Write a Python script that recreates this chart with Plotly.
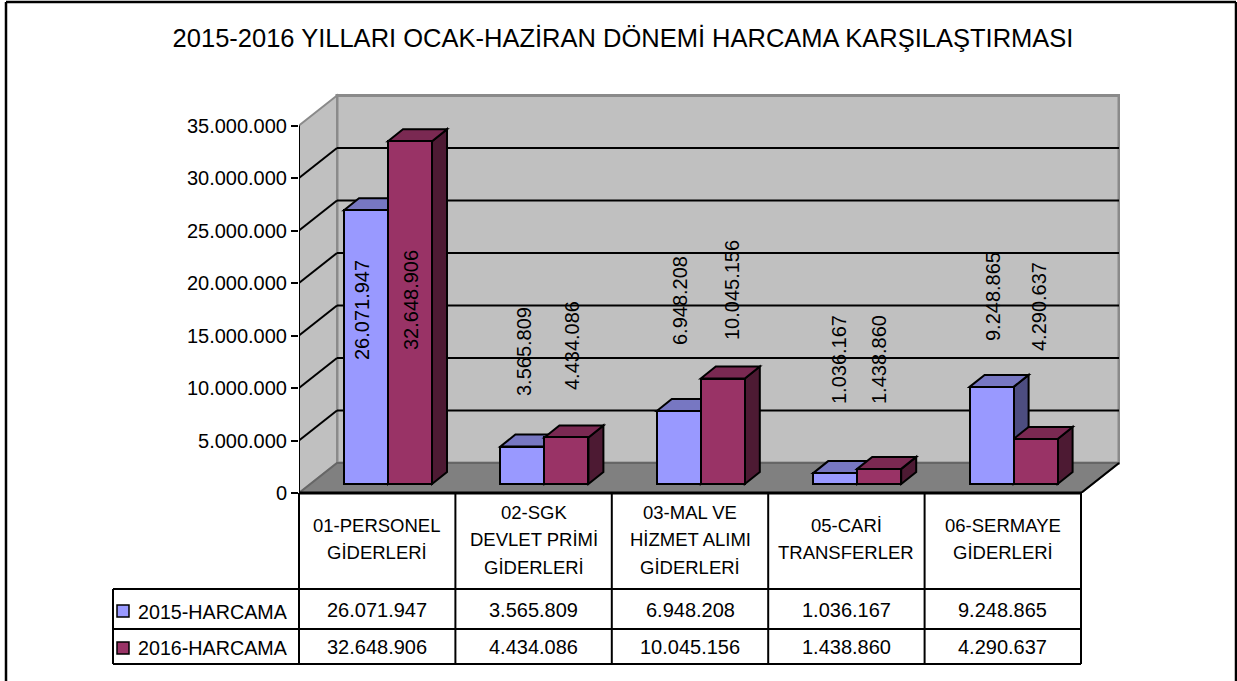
import plotly.graph_objects as go

categories = [
    ["01-PERSONEL", "GİDERLERİ"],
    ["02-SGK", "DEVLET PRİMİ", "GİDERLERİ"],
    ["03-MAL VE", "HİZMET ALIMI", "GİDERLERİ"],
    ["05-CARİ", "TRANSFERLER"],
    ["06-SERMAYE", "GİDERLERİ"],
]
harcama_2015 = [26071947, 3565809, 6948208, 1036167, 9248865]
harcama_2016 = [32648906, 4434086, 10045156, 1438860, 4290637]
series_names = ["2015-HARCAMA", "2016-HARCAMA"]
y_ticks = [0, 5000000, 10000000, 15000000, 20000000, 25000000, 30000000, 35000000]
title = "2015-2016 YILLARI OCAK-HAZİRAN DÖNEMİ HARCAMA KARŞILAŞTIRMASI"

# picture geometry, in pixels
W, H = 1237, 681
X0, X1 = 299, 1081      # front edge of the floor
Y0 = 493                # zero on the front plane
PLOT_R, PLOT_T = 1120, 93
PX_PER_CAT = (X1 - X0) / 5
PX_PER_UNIT = 10.5 / 1e6

DEPTH_X = 38 / PX_PER_CAT
DEPTH_Y = 30 / PX_PER_UNIT
BAR_X = 10.8 / PX_PER_CAT
BAR_BASE = 9 / PX_PER_UNIT
BAR_W = 44 / PX_PER_CAT
BAR_DX = 15 / PX_PER_CAT
BAR_DY = 12 / PX_PER_UNIT

FONT = "Liberation Sans"
BLUE = ["#9999FF", "#7777C2", "#4D4D80"]     # front, top, side
WINE = ["#993366", "#7A2952", "#4D1A33"]
WALL, FLOOR, EDGE = "#C0C0C0", "#808080", "#8A8A8A"

x_max = (PLOT_R - X0) / PX_PER_CAT
y_max = (Y0 - PLOT_T) / PX_PER_UNIT


def px(x):
    return (x - X0) / (PLOT_R - X0)


def py(y):
    return (Y0 - y) / (Y0 - PLOT_T)


def poly(points, fill, line="black", width=2):
    path = "M" + " L".join(f"{a},{b}" for a, b in points) + " Z"
    return dict(type="path", path=path, xref="x", yref="y", layer="below",
                fillcolor=fill, line=dict(color=line, width=width))


def seg(a, b, color="black", width=2):
    return dict(type="line", xref="x", yref="y", layer="below", x0=a[0], y0=a[1], x1=b[0], y1=b[1],
                line=dict(color=color, width=width))


def pline(x0, y0, x1, y1, color="black", width=2):
    return dict(type="line", xref="paper", yref="paper", x0=px(x0), y0=py(y0), x1=px(x1), y1=py(y1),
                line=dict(color=color, width=width))


def label(x, y, text, size=20, angle=0, anchor="center"):
    return dict(xref="paper", yref="paper", x=px(x), y=py(y), text=text, showarrow=False, textangle=angle,
                xanchor=anchor, yanchor="middle", font=dict(family=FONT, size=size, color="black"))


def fmt(v):
    return f"{v:,}".replace(",", ".")


shapes = []
top = y_ticks[-1]
# walls and floor
shapes.append(poly([(DEPTH_X, DEPTH_Y), (DEPTH_X, top + DEPTH_Y), (5 + DEPTH_X, top + DEPTH_Y), (5 + DEPTH_X, DEPTH_Y)],
                   WALL, EDGE, 3))
shapes.append(poly([(0, 0), (0, top), (DEPTH_X, top + DEPTH_Y), (DEPTH_X, DEPTH_Y)], WALL, EDGE, 2))
shapes.append(poly([(0, 0), (DEPTH_X, DEPTH_Y), (5 + DEPTH_X, DEPTH_Y), (5, 0)], FLOOR, "#666666", 2))
shapes.append(seg((5, 0), (5 + DEPTH_X, DEPTH_Y)))
for v in y_ticks[1:-1]:
    shapes.append(seg((0, v), (DEPTH_X, v + DEPTH_Y)))
    shapes.append(seg((DEPTH_X, v + DEPTH_Y), (5 + DEPTH_X, v + DEPTH_Y)))
shapes.append(seg((0, 0), (0, top)))

# depth faces of the bars, the bar traces cover them from the front
for i in range(5):
    for s, (vals, col) in enumerate(((harcama_2015, BLUE), (harcama_2016, WINE))):
        left = i + 0.5 + BAR_X + (s - 1) * BAR_W
        right = left + BAR_W
        t = BAR_BASE + vals[i]
        shapes.append(poly([(right, BAR_BASE), (right + BAR_DX, BAR_BASE + BAR_DY),
                            (right + BAR_DX, t + BAR_DY), (right, t)], col[2]))
        shapes.append(poly([(left, t), (left + BAR_DX, t + BAR_DY), (right + BAR_DX, t + BAR_DY), (right, t)], col[1]))

fig = go.Figure()
for s, (name, vals, col) in enumerate(((series_names[0], harcama_2015, BLUE), (series_names[1], harcama_2016, WINE))):
    fig.add_trace(go.Bar(
        name=name,
        x=[i + 0.5 + BAR_X + (s - 0.5) * BAR_W for i in range(5)],
        y=vals,
        base=BAR_BASE,
        width=BAR_W,
        marker=dict(color=col[0], line=dict(color="black", width=2)),
    ))

# data table
table_top, table_head, table_r1, table_r2 = Y0, 589, 629, 664
cols = [X0 + PX_PER_CAT * i for i in range(6)]
for x in cols:
    shapes.append(pline(x, table_top, x, table_r2))
shapes.append(pline(113, table_head, 113, table_r2))
shapes.append(pline(X0, table_top, X1, table_top, width=3))
for y in (table_head, table_r1, table_r2):
    shapes.append(pline(113, y, X1, y))
# outer frame
shapes.append(pline(6, 681, 6, 2, width=2.5))
shapes.append(pline(6, 2, 1236, 2, width=2.5))
shapes.append(pline(1236, 2, 1236, 681, width=2.5))

# legend keys
for y, col in ((611, BLUE[0]), (648, WINE[0])):
    shapes.append(dict(type="rect", xref="paper", yref="paper", x0=px(117), x1=px(129), y0=py(y - 6), y1=py(y + 6),
                       fillcolor=col, line=dict(color="black", width=1.5)))

annotations = []
# data labels: pixel centre of each rotated label
label_pos = [
    [(362, 310), (411, 300)],
    [(524, 352), (572, 346)],
    [(680, 301), (732, 290)],
    [(839, 360), (879, 360)],
    [(993, 297), (1039, 307)],
]
for i in range(5):
    for s, vals in enumerate((harcama_2015, harcama_2016)):
        annotations.append(label(label_pos[i][s][0], label_pos[i][s][1], fmt(vals[i]), angle=-90))

for i, lines in enumerate(categories):
    cx = (cols[i] + cols[i + 1]) / 2
    first = 525 if len(lines) == 2 else 512
    for n, line in enumerate(lines):
        annotations.append(label(cx, first + n * 27.6, line, size=18.5))
    annotations.append(label(cx, 610, fmt(harcama_2015[i]), size=20))
    annotations.append(label(cx, 647, fmt(harcama_2016[i]), size=20))
annotations.append(label(136, 612, series_names[0], size=19.7, anchor="left"))
annotations.append(label(136, 648, series_names[1], size=19.7, anchor="left"))

fig.update_layout(
    width=W,
    height=H,
    autosize=False,
    margin=dict(l=X0, r=W - PLOT_R, t=PLOT_T, b=H - Y0, pad=0),
    paper_bgcolor="white",
    plot_bgcolor="white",
    barmode="overlay",
    bargap=0,
    showlegend=False,
    separators=",.",
    font=dict(family=FONT, color="black"),
    title=dict(text=title, x=623 / W, xref="container", xanchor="center", y=1 - 38 / H, yref="container",
               yanchor="middle", font=dict(family=FONT, size=25.5, color="black")),
    shapes=shapes,
    annotations=annotations,
)
fig.update_xaxes(visible=False, range=[0, x_max], fixedrange=True)
fig.update_yaxes(range=[0, y_max], tickvals=y_ticks, tickformat=",d", ticks="outside", ticklen=7, tickwidth=2,
                 tickcolor="black", tickfont=dict(family=FONT, size=20, color="black"), showgrid=False,
                 zeroline=False, showline=False, fixedrange=True)

fig.write_html("out.html", config=dict(displayModeBar=False),
               post_script="document.body.style.margin='0';document.body.style.overflow='hidden';")
